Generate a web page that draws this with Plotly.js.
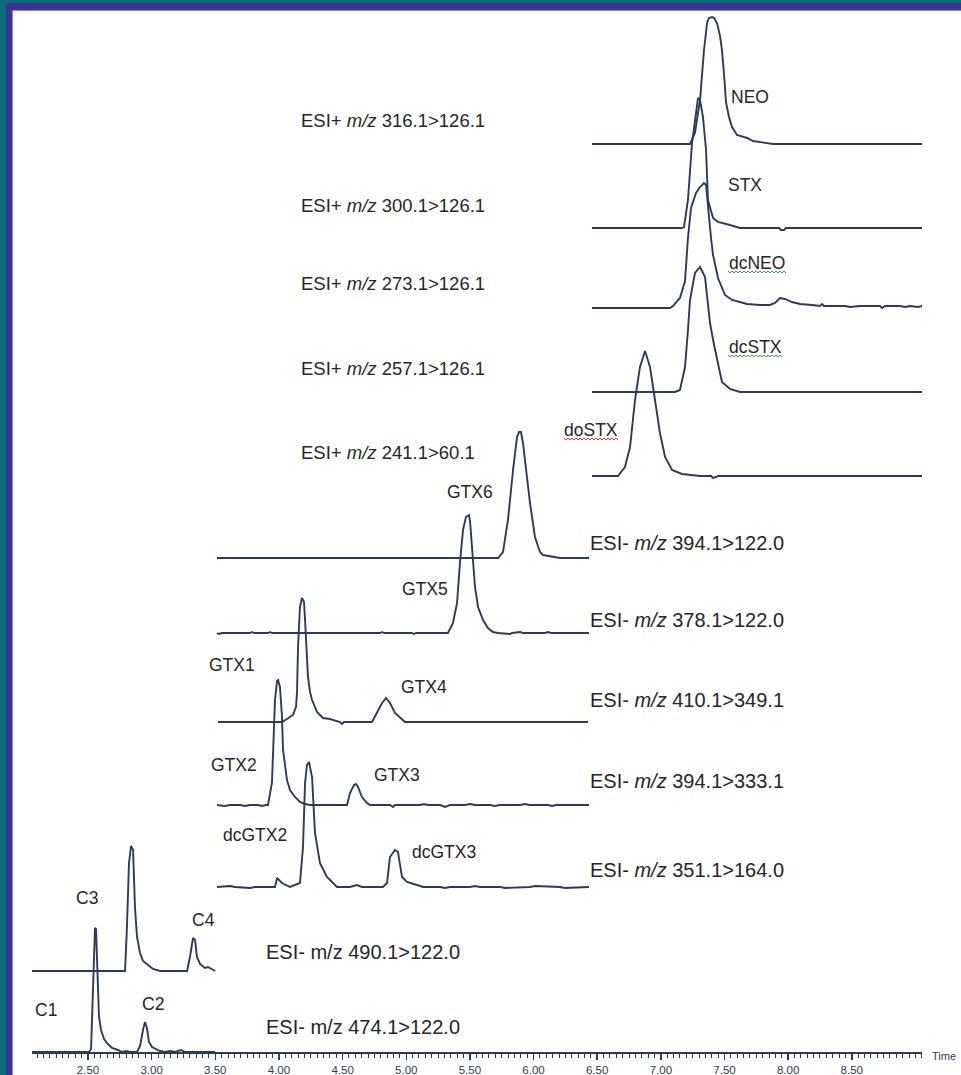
<!DOCTYPE html>
<html>
<head>
<meta charset="utf-8">
<script src="https://cdn.plot.ly/plotly-3.0.1.min.js"></script>
<style>
  html, body { margin:0; padding:0; width:961px; height:1075px; overflow:hidden; background:#0c6a7b; }
  #frame { position:absolute; left:6px; top:3px; width:955px; height:1072px; background:#3a3593; }
  #edge { position:absolute; left:12px; top:10px; width:949px; height:1065px; background:#8a87cf; }
  #plot { position:absolute; left:13px; top:11px; width:948px; height:1064px; background:#ffffff; }
</style>
</head>
<body>
<div id="frame"></div>
<div id="edge"></div>
<div id="plot"></div>
<script>
// ---------------- DATA (time in min on the shared axis, intensity in arbitrary units) ----------------
// ESI- m/z 474.1>122.0  (C1, C2)
const c12Time = [2.060, 2.508, 2.524, 2.539, 2.547, 2.555, 2.563, 2.571, 2.579, 2.586, 2.602, 2.626, 2.657, 2.689, 2.736, 2.767, 2.799, 2.830, 2.885, 2.909, 2.932, 2.948, 2.963, 2.979, 3.003, 3.034, 3.066, 3.105, 3.144, 3.183, 3.231, 3.262, 3.498];
const c12Int  = [0, 0, 3, 60, 112, 124, 123, 98, 58, 36, 22, 13, 8, 4, 2, 0, 1, 0, 0, 6, 22, 30, 24, 10, 5, 3, 1, 0, 1, 0, 2, 0, 0];

// ESI- m/z 490.1>122.0  (C3, C4)
const c34Time = [2.060, 2.791, 2.806, 2.822, 2.838, 2.854, 2.869, 2.885, 2.909, 2.932, 2.971, 3.011, 3.066, 3.278, 3.301, 3.325, 3.341, 3.356, 3.380, 3.419, 3.443, 3.482, 3.498];
const c34Int  = [0, 0, 44, 108, 125, 121, 64, 34, 18, 10, 6, 2, 0, 0, 14, 33, 31, 14, 7, 3, 4, 1, 0];

// ESI- m/z 351.1>164.0  (dcGTX2, dcGTX3)
const dcgTime = [3.513, 3.616, 3.655, 3.773, 3.812, 3.969, 3.985, 4.024, 4.087, 4.165, 4.189, 4.205, 4.220, 4.236, 4.260, 4.283, 4.322, 4.377, 4.425, 4.456, 4.558, 4.613, 4.652, 4.817, 4.849, 4.872, 4.912, 4.935, 4.967, 5.006, 5.084, 5.132, 5.265, 5.304, 5.344, 5.501, 5.540, 5.579, 5.736, 5.776, 5.972, 6.011, 6.208, 6.247, 6.436];
const dcgInt  = [0, 1, 0, -1, 0, 0, 9, 4, 0, 4, 40, 104, 122, 125, 110, 54, 24, 10, 4, 0, 0, 2, 0, 0, 4, 30, 37, 35, 10, 5, 2, 0, 0, -1, 0, 0, 1, 0, 0, -1, 0, 1, 0, -1, 0];

// ESI- m/z 394.1>333.1  (GTX2, GTX3)
const g23Time = [3.513, 3.576, 3.616, 3.694, 3.733, 3.773, 3.835, 3.867, 3.898, 3.914, 3.945, 3.953, 3.969, 3.985, 3.993, 4.008, 4.024, 4.032, 4.063, 4.087, 4.126, 4.165, 4.205, 4.244, 4.535, 4.558, 4.590, 4.605, 4.621, 4.652, 4.692, 4.715, 4.872, 4.896, 4.912, 5.108, 5.139, 5.171, 5.265, 5.304, 5.344, 5.462, 5.501, 5.540, 5.658, 5.697, 5.736, 5.894, 5.933, 5.972, 6.113, 6.145, 6.176, 6.436];
const g23Int  = [0, -1, 0, 0, -1, 0, 0, -1, 0, 0, 22, 55, 105, 124, 125, 118, 88, 55, 25, 15, 8, 3, 1, 0, 0, 12, 20, 21, 18, 8, 2, 0, 0, -2, 0, 0, 1, 0, 0, -2, 0, 0, 1, 0, 0, -1, 0, 0, 1, 0, 0, -1, 0, 0];

// ESI- m/z 410.1>349.1  (GTX1, GTX4)
const g14Time = [3.521, 4.024, 4.063, 4.110, 4.134, 4.142, 4.150, 4.165, 4.181, 4.197, 4.205, 4.220, 4.228, 4.244, 4.260, 4.299, 4.346, 4.401, 4.464, 4.480, 4.495, 4.511, 4.731, 4.770, 4.810, 4.841, 4.872, 4.912, 4.951, 4.990, 6.428];
const g14Int  = [0, 0, 3, 7, 15, 30, 75, 115, 124, 120, 102, 69, 45, 30, 22, 10, 4, 3, 1, 0, -2, 0, 0, 9, 19, 24, 19, 9, 4, 0, 0];

// ESI- m/z 378.1>122.0  (GTX5)
const g5Time = [3.513, 3.529, 3.553, 3.773, 3.788, 3.804, 3.914, 3.930, 3.945, 4.794, 4.810, 4.825, 5.045, 5.061, 5.077, 5.328, 5.367, 5.399, 5.422, 5.446, 5.469, 5.493, 5.501, 5.517, 5.540, 5.564, 5.603, 5.642, 5.681, 5.721, 5.815, 5.831, 5.894, 5.917, 6.090, 6.113, 6.137, 6.436];
const g5Int  = [0, -1, 0, 0, 1, 0, 0, 1, 0, 0, 1, 0, 0, -1, 0, 0, 10, 30, 70, 103, 116, 118, 112, 86, 46, 26, 13, 5, 1, 0, -1, 0, 1, 0, 0, 1, 0, 0];

// ESI- m/z 394.1>122.0  (GTX6)
const g6Time = [3.513, 5.721, 5.760, 5.799, 5.839, 5.870, 5.886, 5.901, 5.917, 5.933, 5.972, 6.011, 6.051, 6.074, 6.184, 6.208, 6.436];
const g6Int  = [0, 0, 6, 38, 88, 121, 126, 126, 115, 98, 55, 21, 6, 3, 1, 0, 0];

// ESI+ m/z 241.1>60.1  (doSTX)
const dosTime = [6.459, 6.663, 6.718, 6.758, 6.797, 6.836, 6.876, 6.915, 6.954, 6.993, 7.033, 7.088, 7.166, 7.308, 7.394, 7.410, 7.433, 7.449, 9.052];
const dosInt  = [0, 0, 9, 29, 76, 109, 125, 109, 76, 43, 19, 6, 2, 0, 0, -2, -1, 0, 0];

// ESI+ m/z 257.1>126.1  (dcSTX)
const dcsTime = [6.459, 7.111, 7.150, 7.190, 7.213, 7.229, 7.268, 7.308, 7.347, 7.386, 7.418, 7.441, 7.480, 7.543, 7.622, 9.052];
const dcsInt  = [0, 0, 2, 25, 62, 92, 119, 125, 115, 69, 47, 32, 10, 3, 0, 0];

// ESI+ m/z 273.1>126.1  (dcNEO)
const dcnTime = [6.459, 7.072, 7.095, 7.150, 7.190, 7.213, 7.237, 7.276, 7.308, 7.339, 7.355, 7.370, 7.394, 7.410, 7.449, 7.504, 7.559, 7.677, 7.779, 7.857, 7.897, 7.936, 7.975, 8.030, 8.093, 8.187, 8.250, 8.266, 8.282, 8.447, 8.486, 8.564, 8.722, 8.737, 8.761, 8.879, 8.918, 8.957, 9.020, 9.052];
const dcnInt  = [0, 0, 2, 10, 27, 70, 100, 115, 121, 125, 123, 100, 70, 53, 30, 13, 8, 4, 3, 3, 5, 10, 9, 6, 4, 3, 2, 4, 2, 2, 1, 2, 2, 0, 2, 2, 1, 2, 1, 2];

// ESI+ m/z 300.1>126.1  (STX)
const stxTime = [6.459, 7.166, 7.182, 7.213, 7.245, 7.268, 7.292, 7.308, 7.331, 7.355, 7.370, 7.410, 7.449, 7.543, 7.622, 7.928, 7.944, 7.967, 7.983, 9.052];
const stxInt  = [0, 0, 1, 28, 85, 108, 130, 128, 111, 78, 28, 10, 6, 3, 0, 0, -2, -2, 0, 0];

// ESI+ m/z 316.1>126.1  (NEO)
const neoTime = [6.459, 7.229, 7.268, 7.308, 7.339, 7.363, 7.378, 7.402, 7.418, 7.441, 7.465, 7.480, 7.496, 7.512, 7.535, 7.559, 7.598, 7.677, 7.724, 7.881, 9.052];
const neoInt  = [0, 0, 11, 44, 94, 121, 126, 127, 126, 121, 108, 94, 70, 42, 27, 17, 9, 6, 3, 0, 0];

// channel captions
const channelLabels = [
  "ESI+ <i>m/z</i> 316.1>126.1", "ESI+ <i>m/z</i> 300.1>126.1", "ESI+ <i>m/z</i> 273.1>126.1",
  "ESI+ <i>m/z</i> 257.1>126.1", "ESI+ <i>m/z</i> 241.1>60.1",
  "ESI- <i>m/z</i> 394.1>122.0", "ESI- <i>m/z</i> 378.1>122.0", "ESI- <i>m/z</i> 410.1>349.1",
  "ESI- <i>m/z</i> 394.1>333.1", "ESI- <i>m/z</i> 351.1>164.0",
  "ESI- m/z 490.1>122.0", "ESI- m/z 474.1>122.0"
];
// peak names
const peakNames = ["NEO", "STX", "dcNEO", "dcSTX", "doSTX", "GTX6", "GTX5", "GTX1", "GTX4", "GTX2", "GTX3", "dcGTX2", "dcGTX3", "C3", "C4", "C1", "C2"];
// axis ticks
const tickVals  = [2.5, 3.0, 3.5, 4.0, 4.5, 5.0, 5.5, 6.0, 6.5, 7.0, 7.5, 8.0, 8.5];
const tickTexts = ["2.50", "3.00", "3.50", "4.00", "4.50", "5.00", "5.50", "6.00", "6.50", "7.00", "7.50", "8.00", "8.50"];

// ---------------- LAYOUT / STYLE ----------------
const series = [
  {t: neoTime, v: neoInt, off: 908},
  {t: stxTime, v: stxInt, off: 824},
  {t: dcnTime, v: dcnInt, off: 744},
  {t: dcsTime, v: dcsInt, off: 660},
  {t: dosTime, v: dosInt, off: 576},
  {t: g6Time,  v: g6Int,  off: 494},
  {t: g5Time,  v: g5Int,  off: 419},
  {t: g14Time, v: g14Int, off: 330},
  {t: g23Time, v: g23Int, off: 247},
  {t: dcgTime, v: dcgInt, off: 165},
  {t: c34Time, v: c34Int, off: 81},
  {t: c12Time, v: c12Int, off: 0}
];
const LINE = '#2c3c56';
const TXT = '#262626';
const FONT = 'Liberation Sans, Arial, Helvetica, sans-serif';

const traces = series.map(s => ({
  type: 'scatter', mode: 'lines',
  x: s.t, y: s.v.map(v => v + s.off),
  line: {color: LINE, width: 1.9},
  hoverinfo: 'skip', cliponaxis: false
}));

// positions of text in page pixels -> paper coords
const PX0 = 32, PX1 = 922, PY0 = 1052, PH = 1037;
const px = x => (x - PX0) / (PX1 - PX0);
const py = y => (PY0 - y) / PH;

const chanPos = [
  [299,120],[299,205],[299,284],[299,368],[299,452],
  [588,543],[588,620],[588,700],[588,781],[588,870],
  [264,952],[264,1027]
];
const chanSize = [18.5, 18.5, 18.5, 18.5, 18.5, 20, 20, 20, 20, 20, 20, 20];
const peakPos = [
  [750,97],[745,185],[757,263],[755,347],[591,430],[470,492],[425,589],[232,665],[424,687],
  [234,765],[397,775],[255,835],[444,852],[87,898],[203,920],[46,1010],[153,1004]
];

const annotations = [];
channelLabels.forEach((txt, i) => annotations.push({
  xref: 'paper', yref: 'paper', x: px(chanPos[i][0]), y: py(chanPos[i][1]),
  xanchor: 'left', yanchor: 'middle', text: txt, showarrow: false,
  font: {family: FONT, size: chanSize[i], color: TXT}
}));
peakNames.forEach((txt, i) => annotations.push({
  xref: 'paper', yref: 'paper', x: px(peakPos[i][0]), y: py(peakPos[i][1]),
  xanchor: 'center', yanchor: 'middle', text: txt, showarrow: false,
  font: {family: FONT, size: 17.5, color: TXT}
}));
annotations.push({
  xref: 'paper', yref: 'paper', x: px(944), y: py(1056), xanchor: 'center', yanchor: 'middle',
  text: 'Time', showarrow: false, font: {family: FONT, size: 11, color: LINE}
});

// spell-check style squiggles under three labels
function squiggle(x0, x1, y, color) {
  let d = 'M' + px(x0) + ',' + py(y);
  let k = 0;
  for (let x = x0 + 2; x <= x1; x += 2, k++) {
    d += ' L' + px(x) + ',' + py(y + (k % 2 === 0 ? 2 : 0));
  }
  return {type: 'path', xref: 'paper', yref: 'paper', path: d, line: {color: color, width: 1}};
}
const shapes = [
  squiggle(728, 787, 271, '#3ca03c'),
  squiggle(728, 782, 355, '#3ca03c'),
  squiggle(564, 618, 438, '#e03030')
];

const layout = {
  width: 948, height: 1064,
  margin: {l: 19, r: 39, t: 4, b: 23, pad: 0},
  paper_bgcolor: '#ffffff', plot_bgcolor: '#ffffff',
  showlegend: false,
  xaxis: {
    range: [2.0601, 9.0515], tickmode: 'array', tickvals: tickVals, ticktext: tickTexts,
    ticks: 'outside', ticklen: 6, tickwidth: 1.5, tickcolor: LINE,
    showline: true, linecolor: LINE, linewidth: 2, showgrid: false, zeroline: false,
    tickfont: {family: FONT, size: 11.5, color: LINE},
    minor: {tickmode: 'linear', tick0: 2.0, dtick: 0.05, ticks: 'outside', ticklen: 4, tickwidth: 1, tickcolor: LINE, showgrid: false},
    fixedrange: true
  },
  yaxis: {range: [0, 1037], visible: false, fixedrange: true},
  annotations: annotations,
  shapes: shapes
};

Plotly.newPlot('plot', traces, layout, {staticPlot: true, displayModeBar: false});
</script>
</body>
</html>
